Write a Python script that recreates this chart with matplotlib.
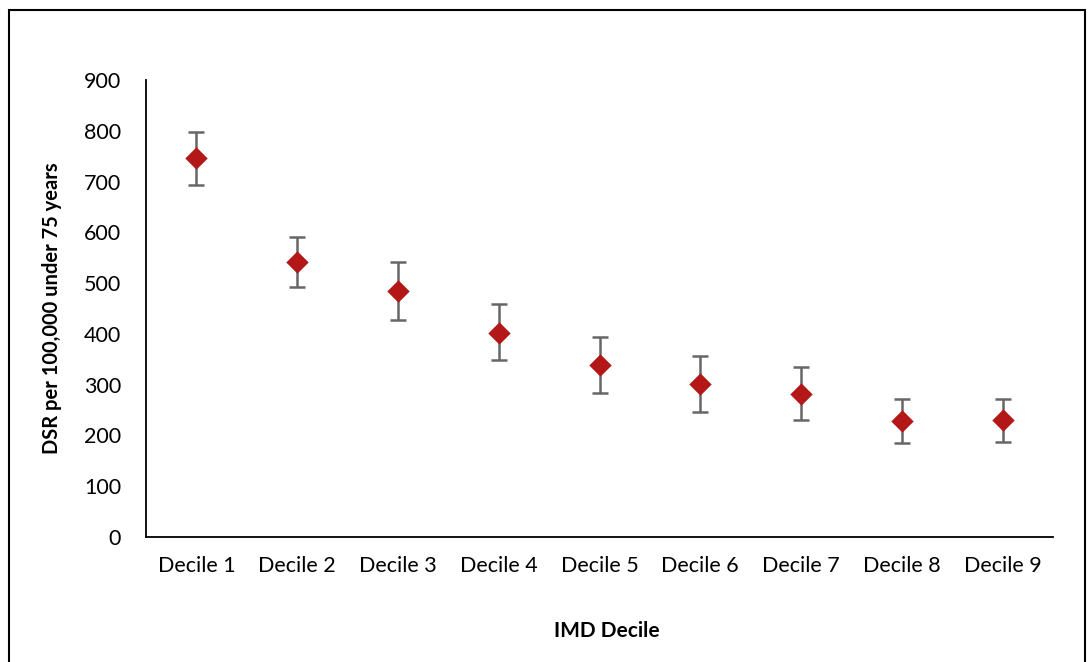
import matplotlib.pyplot as plt
from matplotlib.patches import Rectangle

plt.rcParams['font.family'] = ['Lato', 'DejaVu Sans']

deciles = ['Decile 1', 'Decile 2', 'Decile 3', 'Decile 4', 'Decile 5',
           'Decile 6', 'Decile 7', 'Decile 8', 'Decile 9']
dsr = [746, 541, 484, 402, 339, 301, 282, 228, 230]
ci_low = [693, 492, 427, 349, 284, 246, 230, 185, 187]
ci_high = [797, 591, 541, 459, 394, 356, 335, 272, 272]

err = [[v - lo for v, lo in zip(dsr, ci_low)],
       [hi - v for v, hi in zip(dsr, ci_high)]]

fig = plt.figure(figsize=(10.89, 6.62), dpi=100)
ax = fig.add_axes([146 / 1089, 1 - 537 / 662, (1053 - 146) / 1089, (537 - 80) / 662])

x = range(len(deciles))
ax.errorbar(x, dsr, yerr=err, fmt='none', ecolor='#666666', elinewidth=1.8,
            capsize=6, capthick=1.8, zorder=2)
ax.scatter(x, dsr, marker='D', s=130, color='#B31717', zorder=3, linewidths=0)

ax.set_xlim(-0.5, len(deciles) - 0.5)
ax.set_ylim(0, 900)
ax.set_yticks(range(0, 901, 100))
ax.set_xticks(list(x))
ax.set_xticklabels(deciles)
ax.tick_params(length=0, labelsize=15.5)
ax.tick_params(axis='x', pad=14)
ax.tick_params(axis='y', pad=18)
for s in ['top', 'right']:
    ax.spines[s].set_visible(False)
for s in ['left', 'bottom']:
    ax.spines[s].set_linewidth(1.3)

ax.set_ylabel('DSR per 100,000 under 75 years', fontsize=14.5, fontweight='bold', labelpad=16)
fig.text(607 / 1089, 1 - 631 / 662, 'IMD Decile', fontsize=15, fontweight='bold',
         ha='center', va='center')

# chart frame
fig.patches.append(Rectangle((9 / 1089, -0.05), (1085 - 9) / 1089, 1.05 - 10 / 662,
                             transform=fig.transFigure, fill=False, edgecolor='black',
                             linewidth=1.5))

fig.savefig('out.png', dpi=100)
